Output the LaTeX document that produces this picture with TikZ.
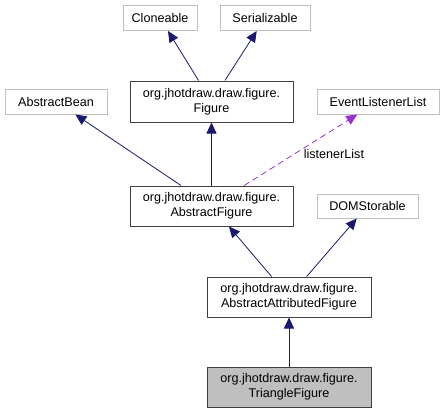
\documentclass[tikz,border=0pt]{standalone}
\usepackage{fontspec}
\setsansfont{Liberation Sans}
\usepackage{xcolor}
\definecolor{extborder}{HTML}{BFBFBF}
\definecolor{classborder}{HTML}{404040}
\definecolor{selfbg}{HTML}{BFBFBF}
\definecolor{inherit}{HTML}{191970}
\definecolor{usage}{HTML}{9A32CD}
\usetikzlibrary{arrows.meta, positioning}

\begin{document}
\begin{tikzpicture}[
        x=1pt, y=-1pt,
        font=\sffamily\fontsize{12.6}{15}\selectfont,
        extclass/.style={
            rectangle,
            draw=extborder,
            fill=white,
            line width=1pt,
            align=center,
            inner sep=0pt,
            minimum height=25pt
        },
        jclass/.style={
            rectangle,
            draw=classborder,
            fill=white,
            line width=1pt,
            align=center,
            inner sep=0pt,
            minimum width=163pt,
            minimum height=40pt
        },
        thisclass/.style={
            jclass,
            fill=selfbg
        },
        isa/.style={
            draw=inherit,
            line width=0.8pt,
            -{Triangle[length=11pt,width=10pt]}
        },
        uses/.style={
            draw=usage,
            line width=0.8pt,
            dash pattern=on 6pt off 4pt,
            -{Triangle[length=11pt,width=10pt]}
        }
    ]

    \useasboundingbox (0,0) rectangle (445,413);

    % Interfaces and outside classes
    \node[extclass, minimum width=74pt] (cloneable) at (160, 18) {Cloneable};
    \node[extclass, minimum width=90pt] (serializable) at (265, 18) {Serializable};
    \node[extclass, minimum width=102pt] (bean) at (56, 101.5) {AbstractBean};
    \node[extclass, minimum width=122pt] (listeners) at (378, 101.5) {EventListenerList};
    \node[extclass, minimum width=101pt, minimum height=24pt] (domstorable) at (367.5, 206) {DOMStorable};

    % Figure hierarchy
    \node[jclass, minimum height=41pt] (figure) at (211.5, 101.5) {org.jhotdraw.draw.figure.\\Figure};
    \node[jclass] (absfigure) at (211.5, 206) {org.jhotdraw.draw.figure.\\AbstractFigure};
    \node[jclass, minimum width=164pt] (attrfigure) at (289, 297) {org.jhotdraw.draw.figure.\\AbstractAttributedFigure};
    \node[thisclass, minimum width=164pt] (trifigure) at (289, 387) {org.jhotdraw.draw.figure.\\TriangleFigure};

    % Inheritance
    \draw[isa] (figure) -- (cloneable);
    \draw[isa] (figure) -- (serializable);
    \draw[isa] (absfigure) -- (bean);
    \draw[isa] (absfigure) -- (figure);
    \draw[isa] (attrfigure) -- (absfigure);
    \draw[isa] (attrfigure) -- (domstorable);
    \draw[isa] (trifigure) -- (attrfigure);

    % Usage
    \draw[uses] (absfigure) -- node[pos=0.45, anchor=west, xshift=5pt] {listenerList} (listeners);

\end{tikzpicture}
\end{document}
